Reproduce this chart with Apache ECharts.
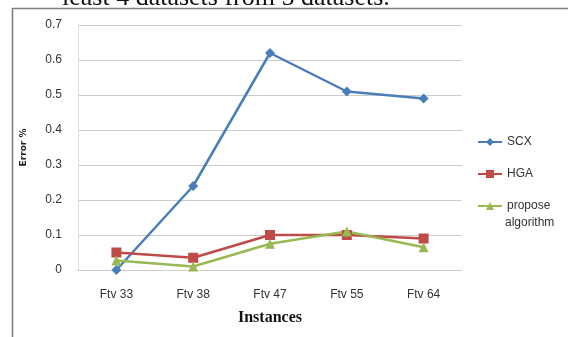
<!DOCTYPE html>
<html><head><meta charset="utf-8">
<script src="https://cdn.jsdelivr.net/npm/echarts@6/dist/echarts.min.js"></script>
<style>html,body{margin:0;padding:0;background:#fff}#c{width:568px;height:337px}</style>
</head><body><div id="c"></div>
<script>
const categories = ['Ftv 33', 'Ftv 38', 'Ftv 47', 'Ftv 55', 'Ftv 64'];
const scx = [0, 0.24, 0.62, 0.51, 0.49];
const hga = [0.05, 0.035, 0.10, 0.10, 0.09];
const propose = [0.027, 0.01, 0.075, 0.11, 0.065];
const yTicks = [0, 0.1, 0.2, 0.3, 0.4, 0.5, 0.6, 0.7];

const chart = echarts.init(document.getElementById('c'));
const lab = {fontFamily: '"Liberation Sans Narrow", "Liberation Sans", Arial', fontSize: 12, color: '#333'};
chart.setOption({
  animation: false,
  grid: {left: 78, right: 106, top: 25, bottom: 67},
  graphic: [
    {type: 'rect', shape: {x: 12.5, y: 8.5, width: 570, height: 340}, style: {fill: 'none', stroke: '#808080', lineWidth: 1.6}},
    {type: 'text', left: 62, top: -15, style: {text: 'least 4 datasets from 5 datasets.', font: '26px "Liberation Serif", serif', fill: '#111'}},
    {type: 'text', left: 505, top: 217, style: {text: 'algorithm', font: '12px "Liberation Sans Narrow", "Liberation Sans"', fill: '#333'}}
  ],
  xAxis: {
    type: 'category', data: categories, boundaryGap: true,
    name: 'Instances', nameLocation: 'middle', nameGap: 40,
    nameTextStyle: {fontFamily: 'Liberation Serif', fontWeight: 'bold', fontSize: 16, color: '#111'},
    axisLine: {lineStyle: {color: '#ccc'}}, axisTick: {show: false},
    axisLabel: Object.assign({margin: 19}, lab)
  },
  yAxis: {
    type: 'value', min: 0, max: 0.7, interval: 0.1,
    name: 'Error %', nameLocation: 'middle', nameGap: 50, nameRotate: 90,
    nameTextStyle: {fontFamily: '"DejaVu Sans"', fontWeight: 'bold', fontSize: 9, color: '#222'},
    axisLine: {show: true, lineStyle: {color: '#ddd'}}, axisTick: {show: false},
    splitLine: {lineStyle: {color: '#ccc', width: 1.2}},
    axisLabel: Object.assign({margin: 16, formatter: v => yTicks.includes(Math.round(v*10)/10) ? String(Math.round(v*10)/10) : ''}, lab)
  },
  legend: {
    orient: 'vertical', left: 472, top: 131, itemGap: 20, itemWidth: 24, itemHeight: 10,
    textStyle: {fontFamily: '"Liberation Sans Narrow", "Liberation Sans"', fontSize: 12, color: '#333'},
    formatter: n => n === 'propose algorithm' ? 'propose' : n,
    data: ['SCX', 'HGA', 'propose algorithm']
  },
  series: [
    {name: 'SCX', type: 'line', data: scx, symbol: 'diamond', symbolSize: 10,
     lineStyle: {color: '#4a7ebb', width: 2.5}, itemStyle: {color: '#4a7ebb'}},
    {name: 'HGA', type: 'line', data: hga, symbol: 'rect', symbolSize: 10,
     lineStyle: {color: '#be4b48', width: 2.5}, itemStyle: {color: '#be4b48'}},
    {name: 'propose algorithm', type: 'line', data: propose, symbol: 'triangle', symbolSize: 10,
     lineStyle: {color: '#98b954', width: 2.5}, itemStyle: {color: '#98b954'}}
  ]
});
</script></body></html>
